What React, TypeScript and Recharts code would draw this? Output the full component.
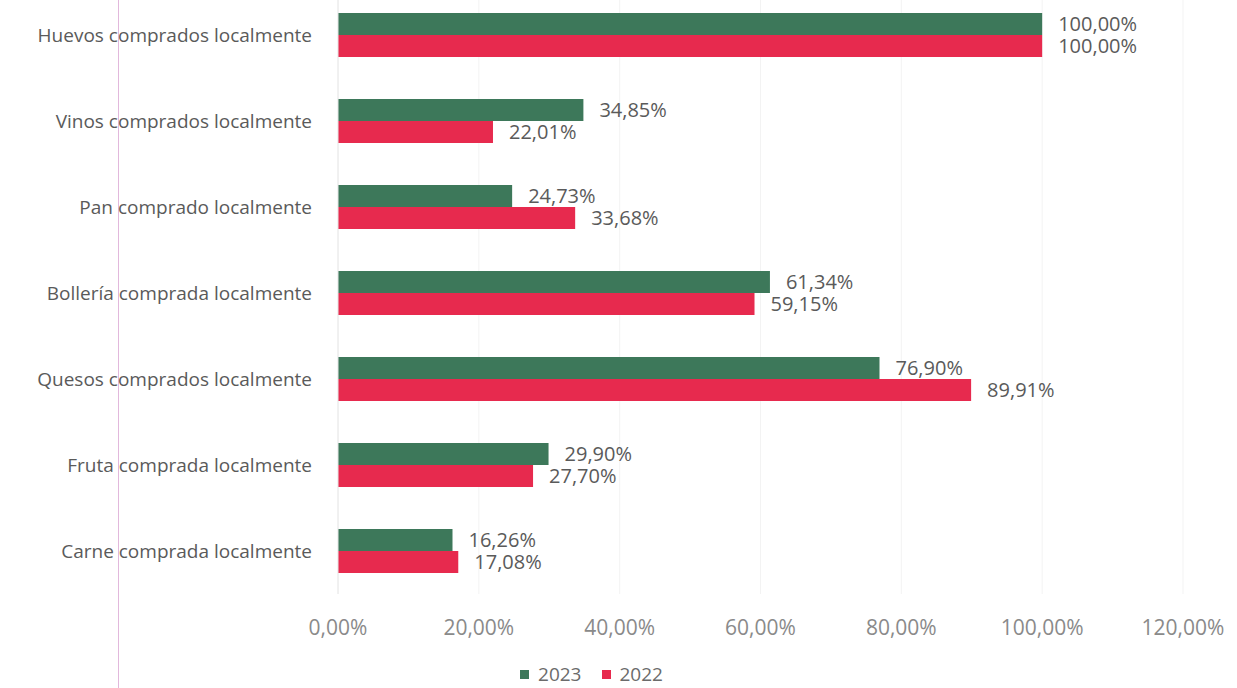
import React from "react";
import { BarChart, Bar, XAxis, YAxis, CartesianGrid, Legend, LabelList } from "recharts";

const categories = [
  "Huevos comprados localmente",
  "Vinos comprados localmente",
  "Pan comprado localmente",
  "Bollería comprada localmente",
  "Quesos comprados localmente",
  "Fruta comprada localmente",
  "Carne comprada localmente",
];
const values2023 = [100.0, 34.85, 24.73, 61.34, 76.9, 29.9, 16.26];
const values2022 = [100.0, 22.01, 33.68, 59.15, 89.91, 27.7, 17.08];
const xTicks = [0, 20, 40, 60, 80, 100, 120];
const seriesNames = ["2023", "2022"];

const GREEN = "#3d785a";
const RED = "#e72a4e";
const FONT = "'Open Sans', sans-serif";

const data = categories.map((c, i) => ({ name: c, y2023: values2023[i], y2022: values2022[i] }));

const fmt = (v: number) => v.toFixed(2).replace(".", ",") + "%";

const LegendContent = () => (
  <div style={{ height: 54, boxSizing: "border-box", paddingTop: 30, display: "flex", justifyContent: "center", fontFamily: FONT, fontSize: 19, color: "#6b6b6b" }}>
    {[GREEN, RED].map((col, i) => (
      <div key={i} style={{ display: "flex", alignItems: "center", marginLeft: i ? 20 : 0, height: 20 }}>
        <span style={{ display: "inline-block", width: 9, height: 9, background: col, marginRight: 9 }} />
        <span style={{ lineHeight: "20px" }}>{seriesNames[i]}</span>
      </div>
    ))}
  </div>
);

export default function App() {
  return (
    <div style={{ position: "absolute", left: 0, top: -8, width: 1237, height: 696, background: "#fff", overflow: "hidden" }}>
      <div style={{ position: "absolute", left: 118, top: 0, width: 1, height: 696, background: "#e2b8dc" }} />
      <BarChart
        width={1237}
        height={696}
        data={data}
        layout="vertical"
        margin={{ top: 0, right: 54, bottom: 0, left: 0 }}
        barGap={0}
        barSize={22}
      >
        <CartesianGrid horizontal={false} vertical={true} stroke="#f3f3f3" />
        <XAxis
          type="number"
          domain={[0, 120]}
          ticks={xTicks}
          tickFormatter={(v: number) => fmt(v)}
          axisLine={false}
          tickLine={false}
          tickSize={0}
          tickMargin={26}
          height={40}
          tick={{ fill: "#8a8a8a", fontSize: 21, fontFamily: FONT }}
          interval={0}
        />
        <YAxis
          type="category"
          dataKey="name"
          width={338}
          axisLine={{ stroke: "#e8e8e8" }}
          tickLine={false}
          tickSize={0}
          tickMargin={26}
          tick={{ fill: "#5a5a5a", fontSize: 19, fontFamily: FONT }}
          interval={0}
        />
        <Legend verticalAlign="bottom" content={<LegendContent />} />
        <Bar dataKey="y2023" name={seriesNames[0]} fill={GREEN} isAnimationActive={false}>
          <LabelList dataKey="y2023" position="right" offset={16} formatter={(v: number) => fmt(v)} style={{ fill: "#5a5a5a", fontSize: 20, fontFamily: FONT }} />
        </Bar>
        <Bar dataKey="y2022" name={seriesNames[1]} fill={RED} isAnimationActive={false}>
          <LabelList dataKey="y2022" position="right" offset={16} formatter={(v: number) => fmt(v)} style={{ fill: "#5a5a5a", fontSize: 20, fontFamily: FONT }} />
        </Bar>
      </BarChart>
    </div>
  );
}
